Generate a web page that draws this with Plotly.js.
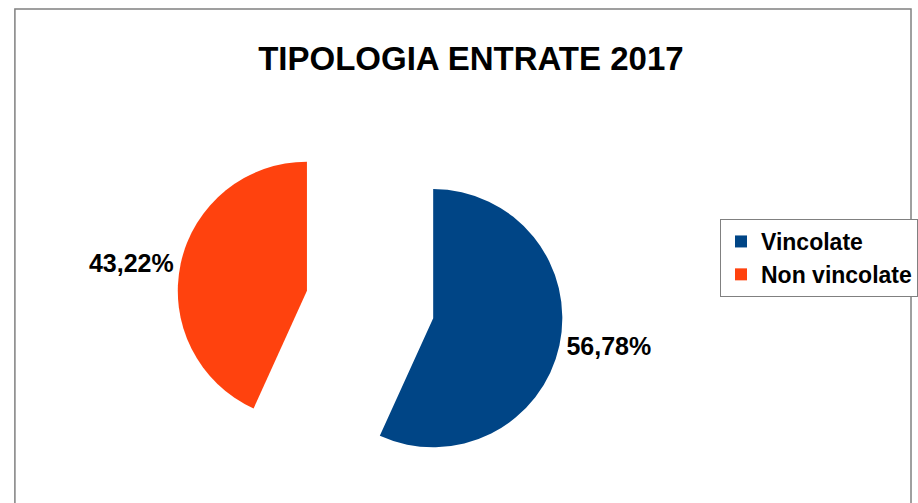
<!DOCTYPE html>
<html>
<head>
<meta charset="utf-8">
<script src="https://cdn.plot.ly/plotly-3.0.1.min.js"></script>
<style>html,body{margin:0;padding:0;background:#fff;}#chart{width:918px;height:503px;}</style>
</head>
<body>
<div id="chart"></div>
<script>
const categories = ['Vincolate', 'Non vincolate'];
const shares = [56.78, 43.22];
const sliceColors = ['#004586', '#ff420e'];
const chartTitle = 'TIPOLOGIA ENTRATE 2017';

const W = 918, H = 503;
const font = {family: 'Liberation Sans, Arial, sans-serif', color: '#000000', weight: 'bold'};

const data = [{
  type: 'pie',
  labels: categories,
  values: shares,
  marker: {colors: sliceColors, line: {width: 0}},
  sort: false,
  direction: 'clockwise',
  rotation: 0,
  pull: [0.5, 0.5],
  textposition: 'outside',
  texttemplate: '%{percent:.2%}',
  outsidetextfont: Object.assign({}, font, {size: 25}),
  hoverinfo: 'label+percent',
  domain: {x: [177.5 / W, 567.5 / W], y: [3.5 / H, 393.5 / H]}
}];

const layout = {
  width: W, height: H,
  margin: {l: 0, r: 0, t: 0, b: 0},
  paper_bgcolor: '#ffffff',
  separators: ', ',
  title: {
    text: chartTitle,
    font: Object.assign({}, font, {size: 33}),
    x: 474 / W, xanchor: 'center',
    y: 1 - 58 / H, yanchor: 'middle', xref: 'paper', yref: 'container'
  },
  showlegend: true,
  legend: {
    x: 725 / W, xanchor: 'left',
    y: 1 - 219 / H, yanchor: 'top',
    bordercolor: '#808080', borderwidth: 1, bgcolor: '#ffffff',
    font: Object.assign({}, font, {size: 23}),
    traceorder: 'normal'
  },
  shapes: [{
    type: 'rect', xref: 'paper', yref: 'paper',
    x0: 15 / W, x1: 917 / W, y0: -0.2, y1: 1 - 9 / H,
    line: {color: '#808080', width: 1.5}, fillcolor: 'rgba(0,0,0,0)', layer: 'below'
  }]
};

Plotly.newPlot('chart', data, layout, {displayModeBar: false, staticPlot: true});
</script>
</body>
</html>
